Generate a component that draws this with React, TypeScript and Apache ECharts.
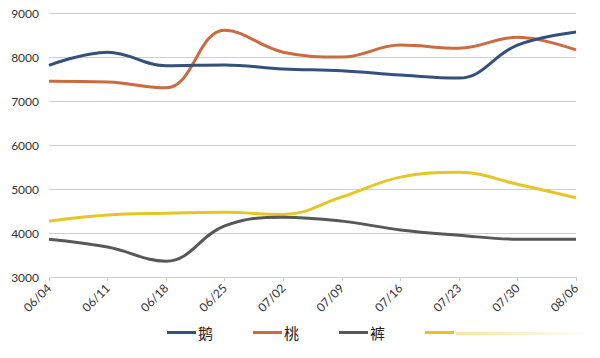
import React, { useEffect, useRef } from "react";
import * as echarts from "echarts";

const categories = ["06/04", "06/11", "06/18", "06/25", "07/02", "07/09", "07/16", "07/23", "07/30", "08/06"];
const seriesNames = ["鹅", "桃", "裤", " "];
const goose = [7810, 8110, 7800, 7820, 7730, 7690, 7590, 7520, 8270, 8570];
const peach = [7450, 7430, 7300, 8610, 8110, 8000, 8270, 8200, 8450, 8160];
const pants = [3860, 3680, 3360, 4160, 4360, 4270, 4070, 3950, 3860, 3860];
const yellow = [4270, 4410, 4450, 4470, 4420, 4820, 5270, 5380, 5110, 4800];
const colors = ["#34507c", "#cc6a40", "#585858", "#e6c626"];
const yTicks = { min: 3000, max: 9000, interval: 1000 };

export default function App() {
  const ref = useRef<HTMLDivElement>(null);
  useEffect(() => {
    const chart = echarts.init(ref.current!, null, { renderer: "svg" });
    const datas = [goose, peach, pants, yellow];
    chart.setOption({
      animation: false,
      backgroundColor: "#ffffff",
      grid: { left: 49, right: 24, top: 13, bottom: 81 },
      legend: {
        left: 167,
        top: 325,
        padding: 0,
        icon: "rect",
        itemWidth: 29,
        itemHeight: 3,
        itemGap: 40,
        textStyle: { fontFamily: "Noto Sans CJK SC", fontSize: 15, color: "#222", padding: [0, 0, 0, -3] },
        data: seriesNames,
      },
      xAxis: {
        type: "category",
        data: categories,
        boundaryGap: false,
        axisLine: { lineStyle: { color: "#cfcfcf" } },
        axisTick: { alignWithLabel: true, length: 4, lineStyle: { color: "#cfcfcf" } },
        axisLabel: { rotate: 45, fontFamily: "Lato", fontSize: 12, color: "#333", margin: 9 },
      },
      yAxis: {
        type: "value",
        min: yTicks.min,
        max: yTicks.max,
        interval: yTicks.interval,
        axisLine: { show: false },
        axisTick: { show: false },
        splitLine: { lineStyle: { color: "#cfcfcf" } },
        axisLabel: { fontFamily: "Lato", fontSize: 12, color: "#333", margin: 10, formatter: (v: number) => String(v) },
      },
      series: seriesNames.map((n, i) => ({
        name: n,
        type: "line",
        smooth: 0.4,
        symbol: "none",
        data: datas[i],
        itemStyle: { color: colors[i] },
        lineStyle: { width: 3, color: colors[i] },
        z: 4 - i,
      })),
      graphic: [
        {
          type: "rect",
          left: 456,
          top: 332,
          shape: { width: 135, height: 3 },
          style: {
            fill: new echarts.graphic.LinearGradient(0, 0, 1, 0, [
              { offset: 0, color: "rgba(230,198,38,0.45)" },
              { offset: 1, color: "rgba(230,198,38,0)" },
            ]),
          },
        },
      ],
    });
    return () => chart.dispose();
  }, []);
  return <div ref={ref} style={{ width: 600, height: 358, position: "absolute", left: 0, top: 0 }} />;
}
